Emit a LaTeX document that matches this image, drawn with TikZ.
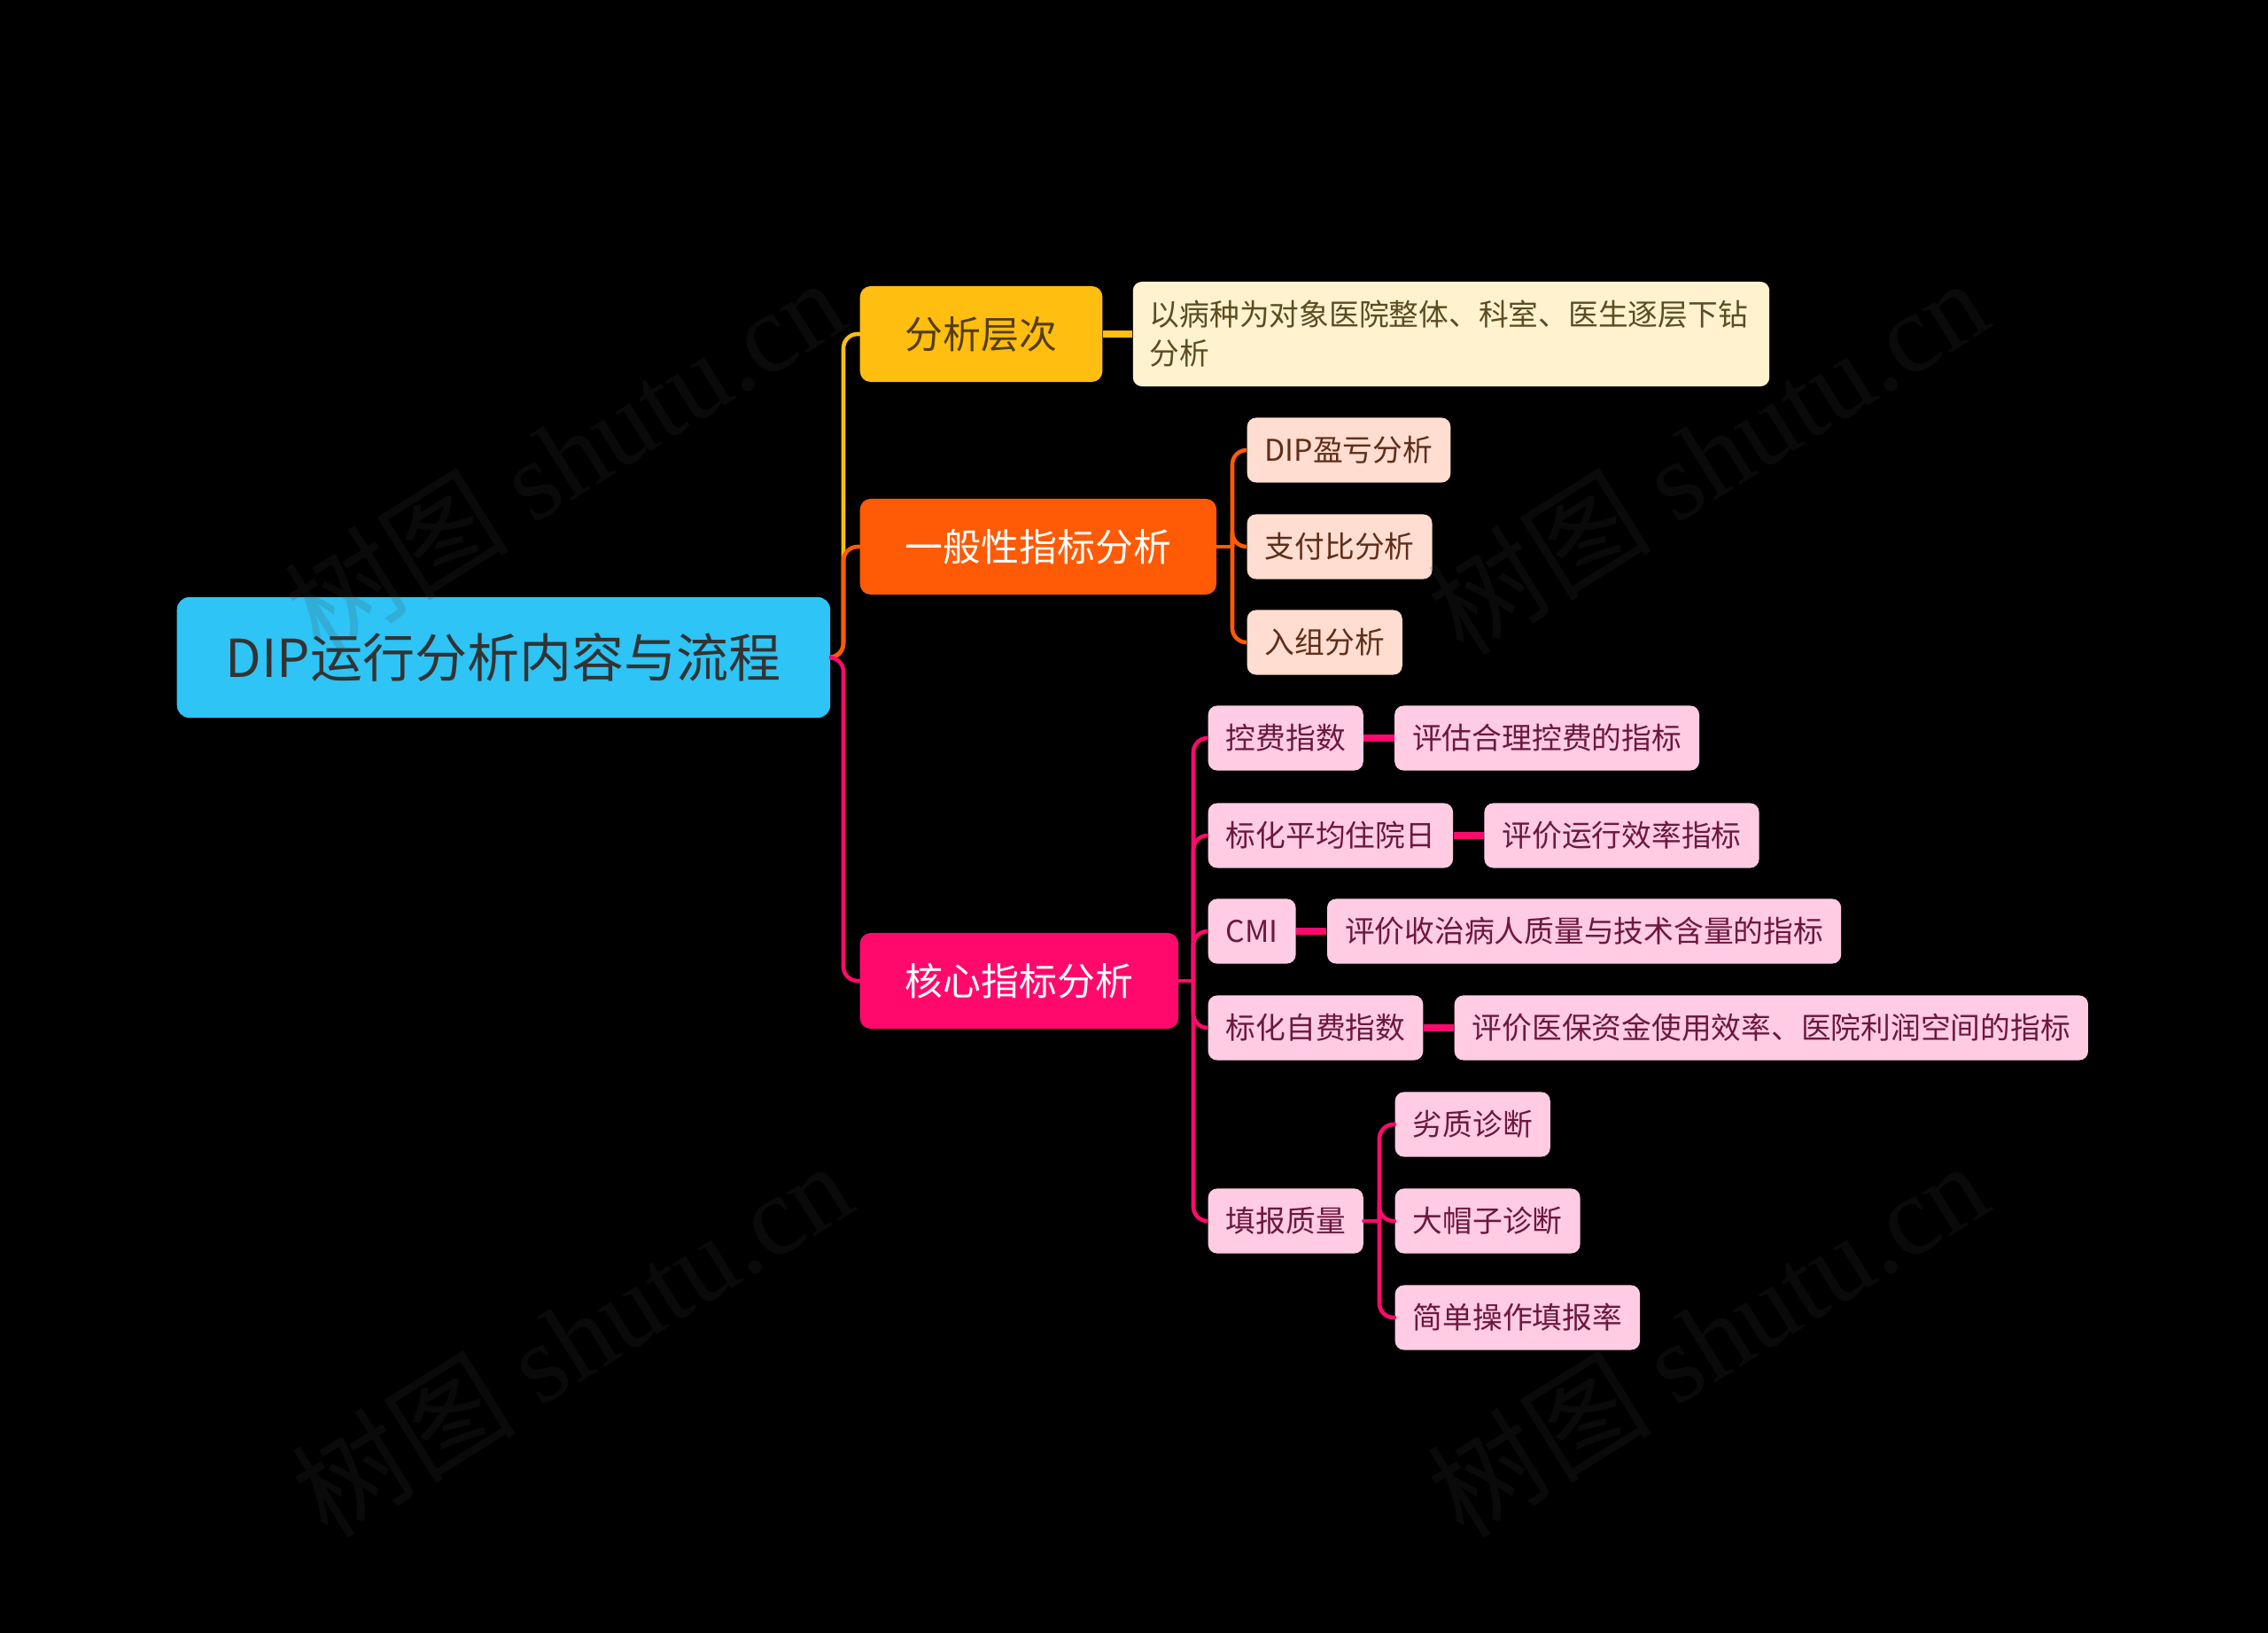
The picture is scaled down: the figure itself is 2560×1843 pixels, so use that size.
\documentclass[tikz,border=0pt]{standalone}
\usepackage{fontspec}
\setmainfont{Noto Sans CJK SC}
\newfontfamily\wmserif{Liberation Serif}
\usetikzlibrary{positioning}
\definecolor{dipblue}{RGB}{46,196,245}
\definecolor{dipyellow}{RGB}{255,190,16}
\definecolor{diporange}{RGB}{255,90,5}
\definecolor{dippink}{RGB}{255,10,108}
\definecolor{dipcream}{RGB}{255,243,207}
\definecolor{dippeach}{RGB}{255,221,208}
\definecolor{diprose}{RGB}{255,204,227}
\definecolor{dipgrey}{RGB}{51,51,51}
\definecolor{dipbrown}{RGB}{85,62,12}
\definecolor{dipolive}{RGB}{92,76,32}
\definecolor{dipumber}{RGB}{95,45,25}
\definecolor{dipmaroon}{RGB}{108,24,60}
\tikzset{
  rootbox/.style={fill=dipblue,rounded corners=0.14cm,minimum height=1.36cm,minimum width=7.37cm,text=dipgrey,font=\fontsize{16.8}{20}\selectfont,anchor=west},
  topbox/.style={rounded corners=0.12cm,minimum height=1.08cm,inner xsep=0.51cm,font=\fontsize{12.2}{14}\selectfont,anchor=west},
  leaf/.style={rounded corners=0.1cm,minimum height=0.73cm,inner xsep=0.2cm,font=\fontsize{9.6}{12.5}\selectfont,anchor=west},
  genleaf/.style={leaf,fill=dippeach,text=dipumber},
  coreleaf/.style={leaf,fill=diprose,text=dipmaroon},
  wire/.style={line width=1.3pt,rounded corners=0.16cm,line cap=round},
  link/.style={line width=2pt},
  wmtext/.style={rotate=32,text=black!75,text opacity=0.17,font=\fontsize{36}{40}\selectfont},
}

\begin{document}
\begin{tikzpicture}[x=0.01cm,y=-0.01cm]
  \fill[black] (0,0) rectangle (2560,1843);
  % root and first level
  \node[rootbox] (root) at (199,742) {DIP运行分析内容与流程};
  \node[topbox,fill=dipyellow,text=dipbrown] (lay) at (970,377) {分析层次};
  \node[topbox,fill=diporange,text=white] (gen) at (970,617) {一般性指标分析};
  \node[topbox,fill=dippink,text=white] (core) at (970,1107) {核心指标分析};
  \node[leaf,fill=dipcream,text=dipolive,minimum height=1.18cm,inner xsep=0.19cm,text width=6.8cm,align=left,right=0.33cm of lay] (layd) {以病种为对象医院整体、科室、医生逐层下钻\\分析};
  % general indicators
  \node[genleaf] (dip) at (1407,508) {DIP盈亏分析};
  \node[genleaf] (pay) at (1407,617) {支付比分析};
  \node[genleaf] (grp) at (1407,725) {入组分析};
  % core indicators
  \node[coreleaf] (fee) at (1363,833) {控费指数};
  \node[coreleaf,right=0.34cm of fee] (feed) {评估合理控费的指标};
  \node[coreleaf] (los) at (1363,943) {标化平均住院日};
  \node[coreleaf,right=0.34cm of los] (losd) {评价运行效率指标};
  \node[coreleaf] (cmi) at (1363,1051) {CMI};
  \node[coreleaf,right=0.34cm of cmi] (cmid) {评价收治病人质量与技术含量的指标};
  \node[coreleaf] (self) at (1363,1160) {标化自费指数};
  \node[coreleaf,right=0.34cm of self] (selfd) {评价医保资金使用效率、医院利润空间的指标};
  \node[coreleaf] (rep) at (1363,1378) {填报质量};
  \node[coreleaf] (bad) at (1574,1269) {劣质诊断};
  \node[coreleaf] (hat) at (1574,1378) {大帽子诊断};
  \node[coreleaf] (rate) at (1574,1487) {简单操作填报率};
  % connectors
  \coordinate (t0) at (952,742);
  \coordinate (t1) at (1391,617);
  \coordinate (t2) at (1347,1107);
  \coordinate (t3) at (1557,1378);
  \draw[wire,draw=dipyellow] (root.east) -- (t0) |- (lay.west);
  \draw[wire,draw=diporange] (root.east) -- (t0) |- (gen.west);
  \draw[wire,draw=dippink] (root.east) -- (t0) |- (core.west);
  \draw[link,draw=dipyellow] (lay.east) -- (layd.west);
  \draw[wire,draw=diporange] (gen.east) -- (t1);
  \foreach \n in {dip,pay,grp}{\draw[wire,draw=diporange] (t1) |- (\n.west);}
  \draw[wire,draw=dippink] (core.east) -- (t2);
  \foreach \n in {fee,los,cmi,self,rep}{\draw[wire,draw=dippink] (t2) |- (\n.west);}
  \foreach \n in {fee,los,cmi,self}{\draw[link,draw=dippink] (\n.east) -- (\n d.west);}
  \draw[wire,draw=dippink] (rep.east) -- (t3);
  \foreach \n in {bad,hat,rate}{\draw[wire,draw=dippink] (t3) |- (\n.west);}
  % watermark
  \foreach \x/\y in {637/514,1927/514,645/1510,1927/1510}{\node[wmtext] (wm\x\y) at (\x,\y) {树图 {\wmserif shutu.cn}};}
\end{tikzpicture}
\end{document}
